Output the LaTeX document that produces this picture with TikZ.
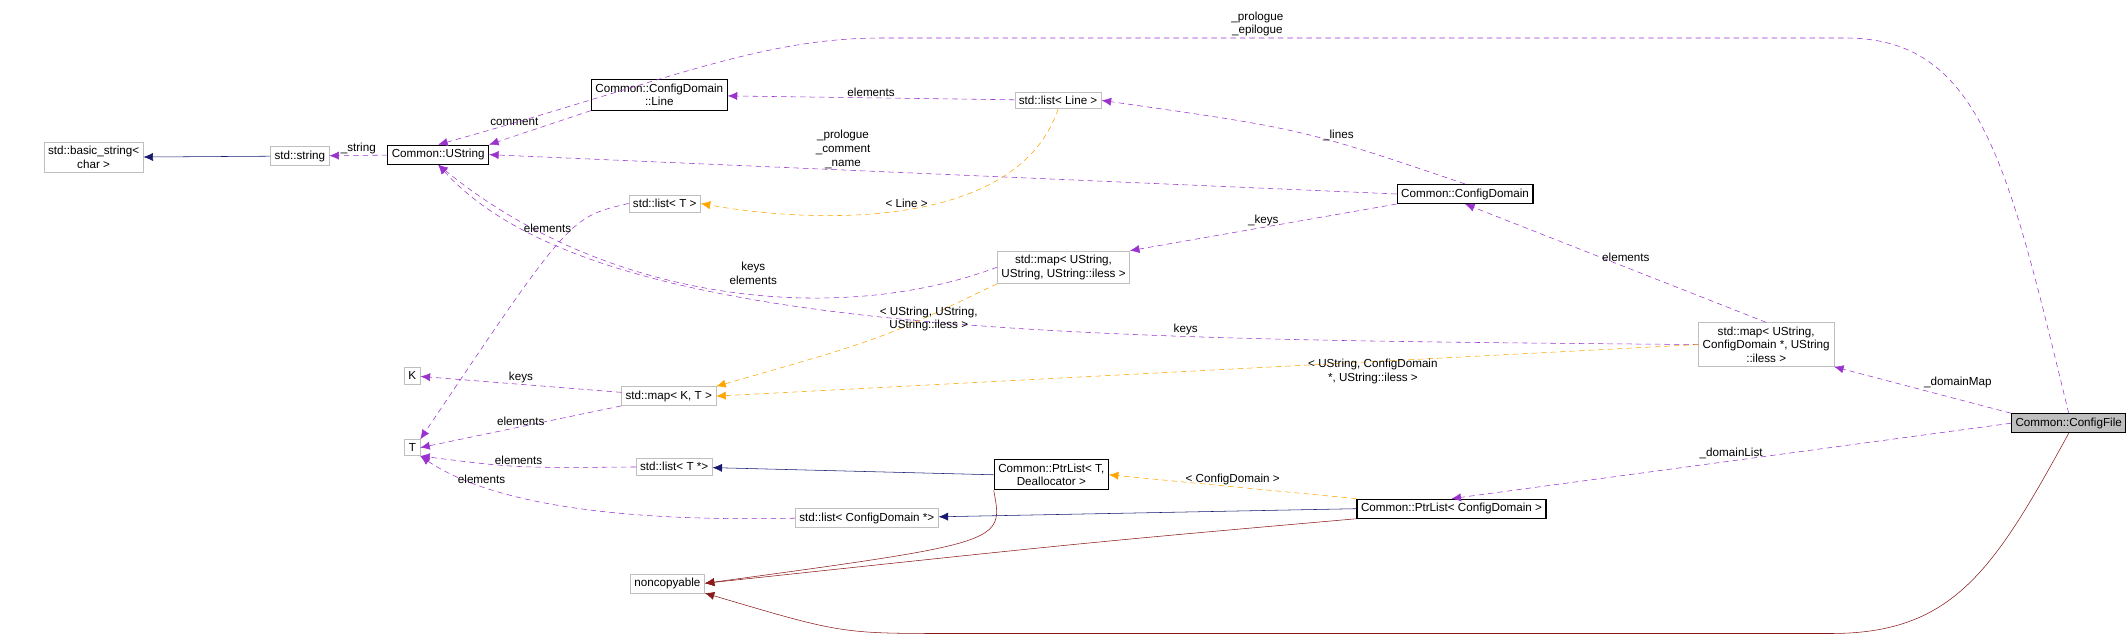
\documentclass[tikz,border=0pt]{standalone}
\usepackage{fontspec}
\setmainfont{Liberation Sans}
\usetikzlibrary{arrows.meta}
\definecolor{usecol}{HTML}{9A32CD}
\definecolor{tplcol}{HTML}{FFA500}
\definecolor{pubcol}{HTML}{191970}
\definecolor{prvcol}{HTML}{8B1A1A}
\tikzset{
  cls/.style={draw=black!25, fill=white, inner sep=3pt, align=center, font=\fontsize{8.6}{10}\selectfont},
  doc/.style={cls, draw=black, thick},
  use/.style={-{Latex[length=7pt,width=6pt]}, dash pattern=on 4pt off 3pt, color=usecol},
  tpl/.style={-{Latex[length=7pt,width=6pt]}, dash pattern=on 4pt off 3pt, color=tplcol},
  pub/.style={-{Latex[length=7pt,width=6pt]}, color=pubcol},
  prv/.style={-{Latex[length=7pt,width=6pt]}, color=prvcol},
  lbl/.style={font=\fontsize{8.6}{10}\selectfont, align=center, inner sep=1pt, text=black}
}
\begin{document}
\begin{tikzpicture}[x=1pt,y=-1pt]
\useasboundingbox (0,0) rectangle (1568,472);
% classes
\node[cls] (bstr) at (69,116) {std::basic\_string<\\ char >};
\node[cls] (str) at (221,115) {std::string};
\node[doc] (ustr) at (323,114) {Common::UString};
\node[doc] (line) at (486,70) {Common::ConfigDomain\\ ::Line};
\node[cls] (lline) at (780,74) {std::list< Line >};
\node[doc] (dom) at (1080,143) {Common::ConfigDomain};
\node[cls] (lt) at (490,150) {std::list< T >};
\node[cls] (mapu) at (784,197) {std::map< UString,\\ UString, UString::iless >};
\node[cls] (mapd) at (1302,254) {std::map< UString,\\ ConfigDomain *, UString\\ ::iless >};
\node[cls] (k) at (304,277) {K};
\node[cls] (mkt) at (493,292) {std::map< K, T >};
\node[cls] (t) at (304,330) {T};
\node[cls] (ltp) at (497,344) {std::list< T *>};
\node[doc] (ptrt) at (775,350) {Common::PtrList< T,\\ Deallocator >};
\node[cls] (ldom) at (639,382) {std::list< ConfigDomain *>};
\node[doc] (ptrd) at (1070,375) {Common::PtrList< ConfigDomain >};
\node[cls] (nocp) at (492,430) {noncopyable};
\node[doc, fill=black!25] (file) at (1525,312) {Common::ConfigFile};
% inheritance
\draw[pub] (str) -- (bstr);
\draw[pub] (ptrt.west) -- (ltp);
\draw[pub] (ptrd.west) -- (ldom);
\draw[prv] (ptrt.south west) .. controls (740,400) .. (nocp.east);
\draw[prv] (ptrd.south west) .. controls (800,400) .. (nocp.east);
\draw[prv] (file.south) .. controls (1470,420) and (1440,467) .. (1350,467) -- (700,467) .. controls (620,467) .. (nocp.south east);
% members
\draw[use] (ustr) -- node[lbl, above] {\_string} (str);
\draw[use] (line.south west) -- node[lbl, above left] {comment} (ustr.north east);
\draw[use] (lline) -- node[lbl, above] {elements} (line);
\draw[use] (dom.west) -- node[lbl, above, pos=0.61] {\_prologue\\ \_comment\\ \_name} (ustr.east);
\draw[use] (dom.north) .. controls (960,95) .. node[lbl, above, pos=0.35] {\_lines} (lline.east);
\draw[use] (dom.south west) -- node[lbl, above] {\_keys} (mapu.north east);
\draw[use] (mapd.north) -- node[lbl, right, pos=0.55] {elements} (dom.south);
\draw[use] (file.north) .. controls (1480,120) and (1460,28) .. (1360,28) -- node[lbl, pos=0.61, above] {\_prologue\\ \_epilogue} (650,28) .. controls (560,28) and (490,60) .. (ustr.north);
\draw[use] (file.north west) -- node[lbl, above right] {\_domainMap} (mapd.south east);
\draw[use] (file.west) -- node[lbl, above] {\_domainList} (ptrd.north);
\draw[use] (mapu.west) .. controls (620,240) and (450,225) .. node[lbl, pos=0.45, above=6pt] {keys\\ elements} (ustr.south);
\draw[use] (mapd.west) .. controls (800,250) and (440,250) .. node[lbl, pos=0.3, above] {keys} (ustr.south);
\draw[use] (lt.west) .. controls (420,160) .. node[lbl, pos=0.4, left] {elements} (t.north east);
\draw[use] (mkt) -- node[lbl, above] {keys} (k);
\draw[use] (mkt.south west) -- node[lbl, above] {elements} (t.east);
\draw[use] (ltp) .. controls (380,345) .. node[lbl, above] {elements} (t.south east);
\draw[use] (ldom.west) .. controls (450,385) and (360,370) .. node[lbl, pos=0.75, above] {elements} (t.south east);
% templates
\draw[tpl] (lline.south) .. controls (750,170) and (600,165) .. node[lbl, pos=0.5, above] {< Line >} (lt.east);
\draw[tpl] (mapu.south west) .. controls (650,250) .. node[lbl, pos=0.15, below left, xshift=20pt] {< UString, UString,\\ UString::iless >} (mkt.north east);
\draw[tpl] (mapd.west) -- node[lbl, pos=0.25, below left, xshift=-10pt] {< UString, ConfigDomain\\ *, UString::iless >} (mkt.east);
\draw[tpl] (ptrd.north west) -- node[lbl, above] {< ConfigDomain >} (ptrt.east);
\end{tikzpicture}
\end{document}
